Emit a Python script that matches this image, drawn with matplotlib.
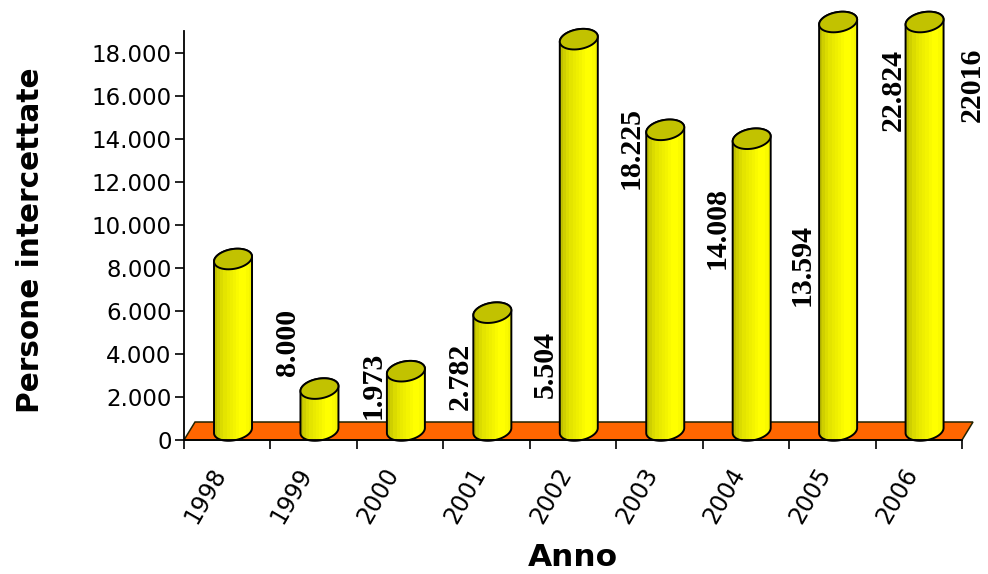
import numpy as np
import matplotlib
matplotlib.use('Agg')
import matplotlib.pyplot as plt
from matplotlib.colors import LinearSegmentedColormap
from matplotlib.patches import Polygon

anni = ['1998', '1999', '2000', '2001', '2002', '2003', '2004', '2005', '2006']
persone = [8000, 1973, 2782, 5504, 18225, 14008, 13594, 22824, 22016]
etichette = ['8.000', '1.973', '2.782', '5.504', '18.225', '14.008', '13.594', '22.824', '22016']
y_ticks = [0, 2000, 4000, 6000, 8000, 10000, 12000, 14000, 16000, 18000]

# label centres in pixels, they sit wherever the original chart left them
label_px = [(287, 342), (373, 385), (460, 376), (545, 365), (631, 148),
            (717, 228), (802, 265), (893, 90), (972, 85)]

W, H = 988, 574
LEFT, RIGHT, TOP, BOTTOM = 184, 962, 31, 440
YMAX = 19023

fig = plt.figure(figsize=(W / 100, H / 100), dpi=100)
ax = fig.add_axes([LEFT / W, 1 - BOTTOM / H, (RIGHT - LEFT) / W, (BOTTOM - TOP) / H])
ax.set_xlim(0, len(anni))
ax.set_ylim(0, YMAX)

# pixel -> data scale
sx = len(anni) / (RIGHT - LEFT)
sy = YMAX / (BOTTOM - TOP)

cmap = LinearSegmentedColormap.from_list(
    'cil', ['#C0C000', '#D8D800', '#E6E600', '#EEEE00', '#F6F600', '#FFFF00', '#FFFF00', '#F4F400'])
grad = np.linspace(0, 1, 12).reshape(1, -1)

# floor
floor = Polygon([(0, 0), (RIGHT - LEFT, 0), (RIGHT - LEFT + 11, 18), (11, 18)], closed=True)
floor.set_xy(floor.get_xy() * [sx, sy])
floor.set(facecolor='#FF6600', edgecolor='#222200', linewidth=1.1, clip_on=False, zorder=2)
ax.add_patch(floor)


def ellipse(cx, cy, t):
    # tilted ellipse, everything in pixels relative to the axes corner
    x = cx + 19 * np.cos(t)
    y = cy + 2.5 * np.cos(t) + 10 * np.sin(t)
    return np.column_stack([x * sx, y * sy])


for i, v in enumerate(persone):
    x0 = i + 0.567
    h = min(v, YMAX) / sy + 9
    cx = x0 / sx
    front = ellipse(cx, 9.5, np.linspace(np.pi, 2 * np.pi, 40))
    top_arc = ellipse(cx, h, np.linspace(0, np.pi, 30))
    body = Polygon(np.vstack([front, top_arc]), closed=True, facecolor='none',
                   edgecolor='black', linewidth=1.4, clip_on=False, zorder=5)
    ax.add_patch(body)
    im = ax.imshow(grad, cmap=cmap, aspect='auto', zorder=4, interpolation='nearest',
                   extent=[x0 - 19 * sx, x0 + 19 * sx, 0, (h + 14) * sy])
    # images get cut at the axes box otherwise, the last two bars go past it
    im.set_clip_box(fig.bbox)
    im.set_clip_path(body)
    cap = Polygon(ellipse(cx, h, np.linspace(0, 2 * np.pi, 60)), closed=True,
                  facecolor='#C2C200', edgecolor='black', linewidth=1.4,
                  clip_on=False, zorder=6)
    ax.add_patch(cap)

ax.set_xlim(0, len(anni))
ax.set_ylim(0, YMAX)

for s in ['top', 'right']:
    ax.spines[s].set_visible(False)
for s in ['left', 'bottom']:
    ax.spines[s].set_linewidth(1.3)
    ax.spines[s].set_zorder(7)

ax.set_yticks(y_ticks)
ax.set_yticklabels([f'{t:,}'.replace(',', '.') for t in y_ticks], fontsize=16.5)
ax.tick_params(axis='y', length=6.5, width=1.2, pad=2.5)

ax.set_xticks(range(len(anni) + 1))
ax.set_xticklabels([])
ax.tick_params(axis='x', which='major', length=6.5, width=1.2)
ax.set_xticks(np.arange(len(anni)) + 0.42, minor=True)
ax.set_xticklabels(anni, minor=True, rotation=60, ha='right', va='center',
                   rotation_mode='anchor', fontsize=17)
ax.tick_params(axis='x', which='minor', length=0, pad=21)

fig.text(31 / W, 1 - 240 / H, 'Persone intercettate', rotation=90, ha='center', va='center',
         fontsize=21.3, fontweight='bold')
fig.text(573 / W, 1 - 566 / H, 'Anno', ha='center', va='baseline',
         fontsize=22.5, fontweight='bold')

for lab, (px, py) in zip(etichette, label_px):
    fig.text(px / W, 1 - py / H, lab, rotation=90, ha='center', va='center', zorder=10,
             family='Liberation Serif', fontweight='bold', fontsize=21.5)

fig.savefig('out.png', dpi=100)
